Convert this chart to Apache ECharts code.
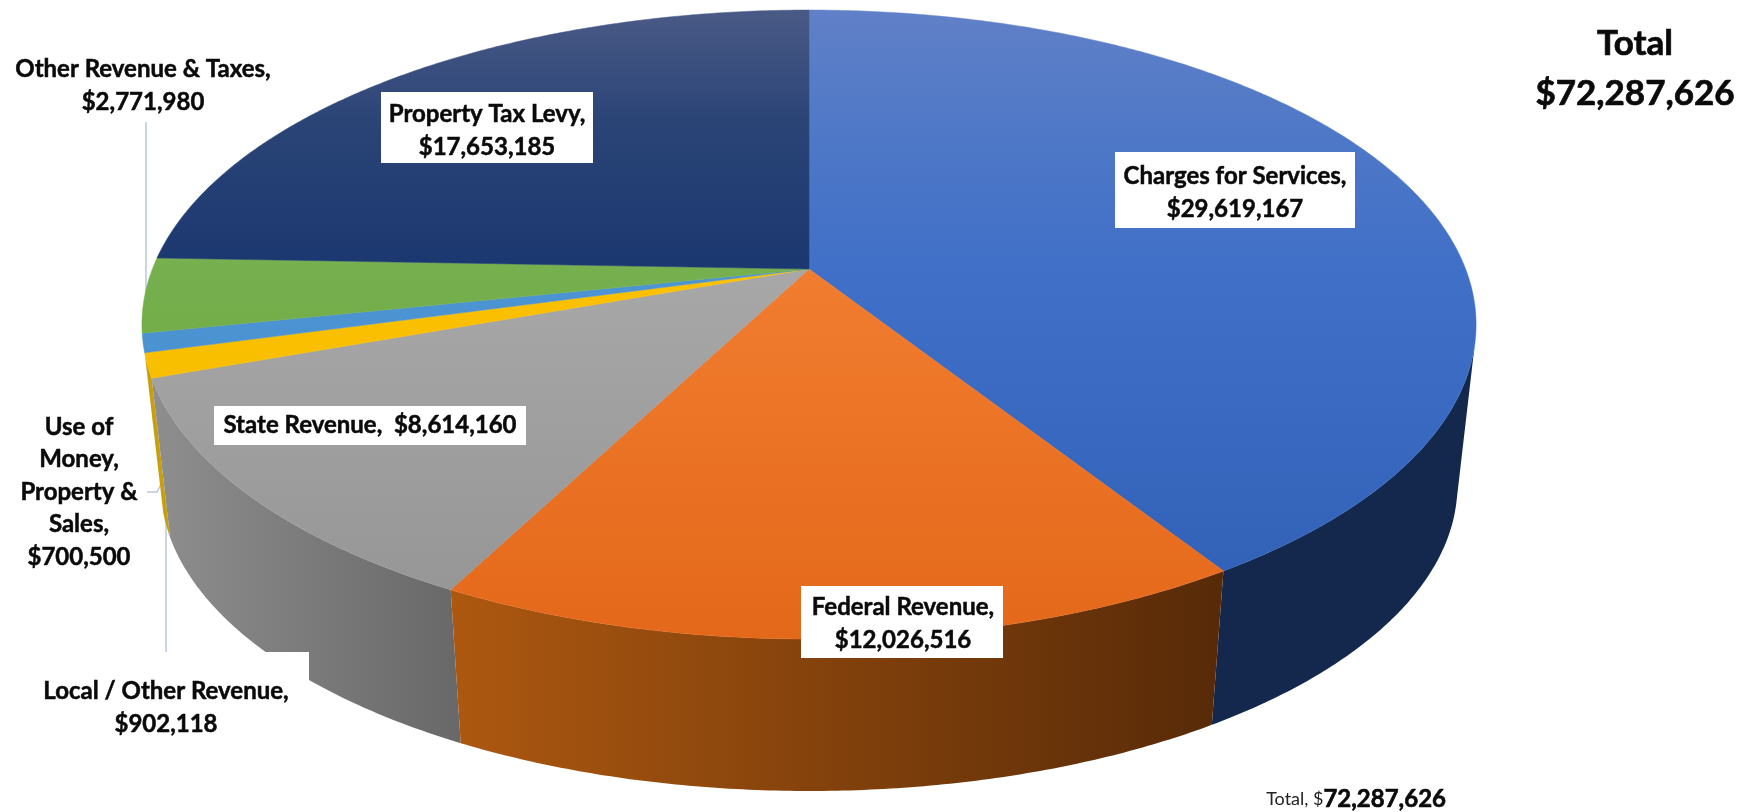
<!DOCTYPE html>
<html>
<head>
<meta charset="utf-8">
<style>
  html, body { margin: 0; padding: 0; background: #fff; }
  #chart { width: 1760px; height: 812px; }
</style>
<script src="https://cdn.jsdelivr.net/npm/echarts@6/dist/echarts.min.js"></script>
</head>
<body>
<div id="chart"></div>
<script>
// data, in pie order clockwise from 12 o'clock
const categories = [
  "Charges for Services",
  "Federal Revenue",
  "State Revenue",
  "Local / Other Revenue",
  "Use of Money, Property & Sales",
  "Other Revenue & Taxes",
  "Property Tax Levy",
];
const values = [29619167, 12026516, 8614160, 902118, 700500, 2771980, 17653185];
const totalValue = 72287626;

// colours: top face from back to front, then side wall from left to right
const topStops = [0, 0.18, 0.4, 1];
const topColors = [
  ["#6180c8", "#5079c7", "#4170c8", "#2f5fb5"],
  ["#f6955f", "#f38a4a", "#f17d30", "#e4681a"],
  ["#b0b0b0", "#adadad", "#a8a8a8", "#949494"],
  ["#ffcb30", "#ffc820", "#fcc200", "#edb400"],
  ["#5a9ad6", "#5498d5", "#4d94d4", "#458cc8"],
  ["#8fbc70", "#86b865", "#76b04f", "#64a435"],
  ["#4a5a86", "#2a4476", "#1c3870", "#1a3567"],
];
const wallColors = [
  ["#14284d", "#14284d"],
  ["#ad5810", "#572a08"],
  ["#8e8e8e", "#686868"],
  ["#c79f0c", "#c79f0c"],
  ["#3b78b0", "#3b78b0"],
  ["#55852c", "#55852c"],
  ["#14284d", "#14284d"],
];

// pie geometry: a disc seen in perspective, so the apex sits above the middle of the ellipse
const apexX = 809;
const apexY = 269;
const radius = 656.6;
const tilt = -0.1765;
const depthY = 257.2;
const faceTop = 10;
const faceFront = 639;
// the bottom disc is the top disc scaled toward a far vanishing point
const bottomScale = 0.972;
const vanishY = 6068;
const wallFrom = 103;
const wallTo = 255;

const fontName = "Lato";
const inkColor = "#0a0a0a";

function project(deg, lower) {
  const rad = (deg * Math.PI) / 180;
  const v = -Math.cos(rad);
  const w = 1 + tilt * v;
  const x = apexX + (radius * Math.sin(rad)) / w;
  const y = (apexY + depthY * v) / w;
  if (!lower) return [x, y];
  return [apexX + (x - apexX) * bottomScale, vanishY + (y - vanishY) * bottomScale];
}

function arcPoints(from, to, lower) {
  const pts = [];
  const steps = Math.max(2, Math.ceil(Math.abs(to - from) / 0.5));
  for (let k = 0; k <= steps; k++) {
    pts.push(project(from + ((to - from) * k) / steps, lower));
  }
  return pts;
}

// slice start angles
const sum = values.reduce((a, b) => a + b, 0);
const starts = [];
values.reduce((acc, val, i) => {
  starts[i] = (acc / sum) * 360;
  return acc + val;
}, 0);
const endOf = (i) => (i === values.length - 1 ? 360 : starts[i + 1]);

function renderWall(params) {
  const i = params.dataIndex;
  const from = Math.max(starts[i], wallFrom);
  const to = Math.min(endOf(i), wallTo);
  if (to - from < 1) return null;
  const c = wallColors[i];
  const mid = (from + to) / 2;
  return {
    type: "polygon",
    z2: Math.round(180 - Math.abs(mid - 180)),
    shape: { points: arcPoints(from, to, false).concat(arcPoints(to, from, true)) },
    style: { fill: new echarts.graphic.LinearGradient(0, 0, 1, 0, [
      { offset: 0, color: c[0] },
      { offset: 1, color: c[1] },
    ]) },
  };
}

function renderTop(params) {
  const i = params.dataIndex;
  const fill = new echarts.graphic.LinearGradient(0, faceTop, 0, faceFront,
    topStops.map((offset, k) => ({ offset: offset, color: topColors[i][k] })), true);
  return {
    type: "polygon",
    shape: { points: [[apexX, apexY]].concat(arcPoints(starts[i], endOf(i), false)) },
    style: { fill: fill, stroke: fill, lineWidth: 0.5 },
  };
}

const money = (n) => "$" + n.toLocaleString("en-US");
const pieData = categories.map((name, i) => ({ name: name, value: values[i] }));

function labelText(cx, cy, text) {
  return {
    type: "text",
    z: 20,
    style: {
      x: cx,
      y: cy,
      text: text,
      fill: inkColor,
      stroke: inkColor,
      lineWidth: 0.5,
      font: "bold 24px " + fontName,
      lineHeight: 32.5,
      align: "center",
      verticalAlign: "middle",
    },
  };
}

function whiteBox(x, y, width, height) {
  return { type: "rect", z: 10, shape: { x: x, y: y, width: width, height: height }, style: { fill: "#fff" } };
}

function leader(points) {
  return { type: "polyline", z: 1, shape: { points: points }, style: { stroke: "#b9c8dc", lineWidth: 1.5, fill: null } };
}

const chart = echarts.init(document.getElementById("chart"));

chart.setOption({
  animation: false,
  backgroundColor: "#ffffff",
  series: [
    { type: "custom", name: "walls", coordinateSystem: "none", z: 2, silent: true, renderItem: renderWall, data: pieData },
    { type: "custom", name: "tops", coordinateSystem: "none", z: 3, silent: true, renderItem: renderTop, data: pieData },
  ],
  graphic: {
    elements: [
      leader([[146, 122], [146, 300]]),
      leader([[166, 505], [166, 652]]),
      leader([[147, 492], [157, 492], [161, 484]]),

      whiteBox(1115, 152, 240, 76),
      whiteBox(381, 92, 212, 71),
      whiteBox(214, 406, 312, 39),
      whiteBox(801, 586, 202, 72),
      whiteBox(26, 652, 283, 88),

      labelText(1235, 193, categories[0] + ",\n" + money(values[0])),
      labelText(903, 624, categories[1] + ",\n" + money(values[1])),
      labelText(370, 425, categories[2] + ",  " + money(values[2])),
      labelText(166, 708, categories[3] + ",\n" + money(values[3])),
      labelText(79, 492, "Use of\nMoney,\nProperty &\nSales,\n" + money(values[4])),
      labelText(143, 86, categories[5] + ",\n" + money(values[5])),
      labelText(487, 131, categories[6] + ",\n" + money(values[6])),

      {
        type: "text",
        z: 20,
        style: {
          x: 1635,
          y: 69,
          text: "Total\n" + money(totalValue),
          fill: inkColor,
          stroke: inkColor,
          lineWidth: 0.7,
          font: "bold 35px " + fontName,
          lineHeight: 50,
          align: "center",
          verticalAlign: "middle",
        },
      },
      {
        type: "text",
        z: 20,
        style: {
          x: 1446,
          y: 799,
          text: "{a|Total, $}{b|" + totalValue.toLocaleString("en-US") + "}",
          align: "right",
          verticalAlign: "middle",
          rich: {
            a: { font: "18px " + fontName, fill: "#222" },
            b: { font: "bold 24px " + fontName, fill: inkColor, stroke: inkColor, lineWidth: 0.6 },
          },
        },
      },
    ],
  },
});
</script>
</body>
</html>
